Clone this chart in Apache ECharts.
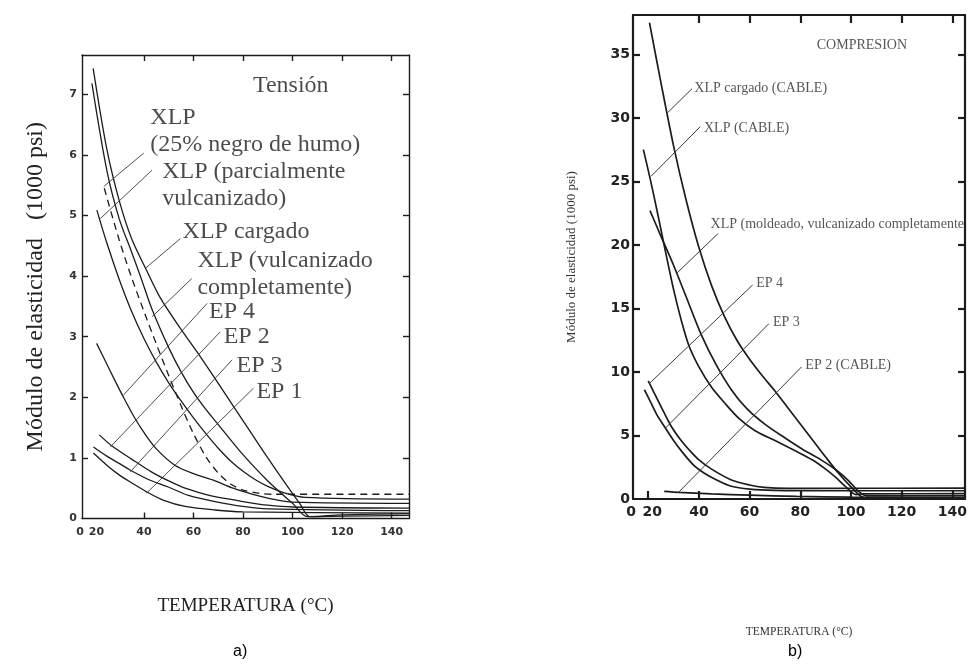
<!DOCTYPE html>
<html><head><meta charset="utf-8">
<script src="https://cdn.jsdelivr.net/npm/echarts@6.0.0/dist/echarts.min.js"></script>
<style>html,body{margin:0;padding:0;background:#fff}#c{width:970px;height:667px}</style>
</head><body><div id="c"></div>
<script>
// ---------- Panel a) Tensión : temperature (°C) vs modulus (1000 psi) ----------
const tensionXTicks = [40, 60, 80, 100, 120, 140];
const tensionXLabels = [15, 20, 40, 60, 80, 100, 120, 140];
const tensionYTicks = [1, 2, 3, 4, 5, 6, 7];
const tensionYLabels = [0, 1, 2, 3, 4, 5, 6, 7];

const tXlpCargado = [[19.5,7.43],[25,6.1],[30,5.25],[35,4.62],[41,4.1],[46.5,3.65],[55,3.12],[62.6,2.68],[70,2.23],[76,1.86],[83,1.43],[90,1.0],[97.6,0.55],[103,0.24],[107,0.03],[120,0.06],[147,0.08]];
const tXlpCompleto = [[19,7.18],[25,5.75],[30,4.95],[35,4.4],[39,3.95],[43.3,3.45],[50,2.82],[55,2.42],[60,2.08],[65,1.8],[70,1.55],[79,1.1],[90,0.62],[100,0.25],[106,0.03],[120,0.04],[147,0.05]];
const tXlpNegro = [[24,5.45],[30,4.6],[35,3.98],[40,3.42],[45,2.88],[50,2.36],[55,1.86],[60,1.4],[65,1.02],[70,0.75],[75,0.57],[80,0.47],[86,0.42],[92,0.4],[147,0.4]];
const tXlpParcial = [[21,5.09],[25,4.55],[30,3.95],[35,3.42],[40,2.97],[45,2.58],[50,2.24],[55,1.94],[60,1.66],[65,1.4],[70,1.16],[75,0.95],[80,0.78],[85,0.64],[90,0.53],[97,0.42],[105,0.35],[147,0.32]];
const tEp4 = [[20.9,2.89],[25,2.55],[28,2.3],[32,1.98],[36,1.68],[40,1.42],[45,1.15],[52.5,0.88],[60,0.74],[68.7,0.62],[76,0.5],[84,0.4],[92,0.32],[100,0.27],[147,0.25]];
const tEp2 = [[22,1.38],[27,1.2],[35,0.98],[43,0.77],[50,0.62],[56.6,0.5],[63,0.42],[68.7,0.36],[80,0.28],[90,0.22],[100,0.19],[147,0.17]];
const tEp3 = [[19.6,1.18],[25,1.03],[30,0.91],[34.4,0.8],[42,0.64],[49.8,0.52],[58,0.38],[68.7,0.28],[80,0.2],[90,0.16],[147,0.13]];
const tEp1 = [[19.6,1.08],[25,0.88],[30,0.72],[35,0.59],[41.1,0.44],[48,0.3],[56.6,0.2],[68.7,0.14],[80,0.11],[147,0.09]];
const tensionSeries = [tXlpCargado, tXlpCompleto, tXlpNegro, tXlpParcial, tEp4, tEp2, tEp3, tEp1];
const tensionDashed = [false, false, true, false, false, false, false, false];

const tensionTexts = ['Tensión', 'XLP\n(25% negro de humo)', 'XLP (parcialmente\nvulcanizado)', 'XLP cargado', 'XLP (vulcanizado\ncompletamente)', 'EP 4', 'EP 2', 'EP 3', 'EP 1'];
const tensionTextAt = [[84,7.14],[42.6,6.40],[47.4,5.50],[55.6,4.73],[61.6,4.03],[66.3,3.41],[72.2,3.0],[77.4,2.53],[85.4,2.09]];
const tensionLeaders = [
  [[39.9,6.03],[23.8,5.48]],
  [[43.3,5.75],[22.4,4.95]],
  [[54.7,4.62],[40.6,4.13]],
  [[59.3,3.96],[43.3,3.33]],
  [[65.5,3.55],[31.8,2.04]],
  [[70.8,3.08],[26.4,1.18]],
  [[75.6,2.62],[34.5,0.77]],
  [[84.2,2.15],[41.1,0.42]]
];

// ---------- Panel b) Compresión ----------
const compXTicks = [20, 40, 60, 80, 100, 120, 140];
const compXTopTicks = [40, 60, 80, 100, 120, 140];
const compXLabels = [14, 20, 40, 60, 80, 100, 120, 140];
const compYTicks = [5, 10, 15, 20, 25, 30, 35];
const compYLabels = [0, 5, 10, 15, 20, 25, 30, 35];

const cXlpCargado = [[20.5,37.5],[25,32.8],[30,27.8],[35,23.5],[40,19.8],[45,16.8],[50,14.4],[55,12.5],[60,11.0],[65,9.7],[70,8.5],[75,7.2],[80,5.9],[85,4.6],[90,3.3],[95,2.05],[100,0.95],[104,0.2],[107,0.05],[145,0.05]];
const cXlpCable = [[18.1,27.5],[21,25.0],[24,22.2],[27,19.3],[30,16.5],[33,14.1],[36,12.1],[40,10.4],[45,8.8],[50,7.6],[56,6.3],[62,5.4],[70,4.6],[78,3.8],[85,3.05],[90,2.35],[94,1.7],[98,0.95],[102,0.35],[105,0.4],[145,0.42]];
const cXlpMoldeado = [[20.7,22.7],[25,20.7],[30,18.4],[35,15.9],[41,12.9],[47,10.5],[53,8.55],[59,7.1],[66,5.9],[74,4.8],[81,3.9],[88,3.1],[94,2.3],[99,1.45],[103,0.6],[106,0.25],[145,0.25]];
const cEp4 = [[20,9.3],[22,8.5],[25,7.3],[29,5.75],[33,4.6],[36,3.9],[39.9,3.1],[45,2.35],[52.8,1.5],[60,1.1],[65.7,0.92],[75,0.84],[90,0.84],[145,0.86]];
const cEp3 = [[18.5,8.6],[21,7.6],[23.5,6.6],[26.9,5.55],[30,4.6],[34,3.55],[38,2.65],[42,2.05],[47,1.5],[52.8,1.0],[60,0.78],[70,0.68],[90,0.65],[145,0.65]];
const cEp2 = [[26.3,0.6],[32.1,0.52],[45,0.4],[60,0.3],[78.6,0.2],[100,0.14],[145,0.1]];
const compSeries = [cXlpCargado, cXlpCable, cXlpMoldeado, cEp4, cEp3, cEp2];

const compTexts = ['COMPRESION', 'XLP cargado (CABLE)', 'XLP (CABLE)', 'XLP (moldeado, vulcanizado completamente', 'EP 4', 'EP 3', 'EP 2 (CABLE)'];
const compTextAt = [[86.5,35.7],[38.2,32.3],[42.0,29.2],[44.6,21.65],[62.6,17.0],[69.2,13.9],[82.0,10.5]];
const compLeaders = [
  [[37.3,32.3],[27.6,30.4]],
  [[40.5,29.3],[21.1,25.4]],
  [[47.6,20.9],[31.4,17.8]],
  [[61.2,16.85],[20.5,9.1]],
  [[67.6,13.8],[26.9,5.6]],
  [[80.5,10.4],[32.1,0.55]]
];

// ---------- chart ----------
const INK = '#1c1c1c';
const serif = 'Liberation Serif';
const chart = echarts.init(document.getElementById('c'), null, {renderer: 'canvas'});

function frameAxis(gridIndex, pos, min, max, tickVals, tickLen, lineW) {
  return {
    type: 'value', gridIndex, position: pos, min, max,
    axisLine: {show: true, onZero: false, lineStyle: {color: INK, width: lineW}},
    axisTick: {show: true, inside: true, length: tickLen, customValues: tickVals, lineStyle: {color: INK, width: lineW}},
    axisLabel: {show: false}, splitLine: {show: false}
  };
}

const xAxes = [
  Object.assign(frameAxis(0, 'bottom', 15, 147, tensionXTicks, 6, 1.4), {
    axisLabel: {show: true, customValues: tensionXLabels, margin: 8, color: '#333', fontFamily: 'DejaVu Sans', fontWeight: 'bold', fontSize: 11,
      formatter: v => v === 15 ? '{z|0}' : (v === 20 ? '{t|20}' : String(v)),
      rich: {z: {padding: [0, 4, 0, 0], fontFamily: 'DejaVu Sans', fontWeight: 'bold', fontSize: 11, color: '#333'},
             t: {padding: [0, 0, 0, 4], fontFamily: 'DejaVu Sans', fontWeight: 'bold', fontSize: 11, color: '#333'}}},
    name: 'TEMPERATURA (°C)', nameLocation: 'middle', nameGap: 78,
    nameTextStyle: {fontFamily: serif, fontSize: 19, color: '#222'}
  }),
  frameAxis(0, 'top', 15, 147, tensionXTicks, 6, 1.4),
  Object.assign(frameAxis(1, 'bottom', 14, 145, compXTicks, 8, 2.2), {
    axisLabel: {show: true, customValues: compXLabels, margin: 6, color: '#222', fontFamily: 'DejaVu Sans', fontWeight: 'bold', fontSize: 14,
      formatter: v => v === 14 ? '{z|0}' : (v === 20 ? '{t|20}' : String(v)),
      rich: {z: {padding: [0, 4, 0, 0], fontFamily: 'DejaVu Sans', fontWeight: 'bold', fontSize: 14, color: '#222'},
             t: {padding: [0, 0, 0, 8], fontFamily: 'DejaVu Sans', fontWeight: 'bold', fontSize: 14, color: '#222'}}},
    name: 'TEMPERATURA (°C)', nameLocation: 'middle', nameGap: 127,
    nameTextStyle: {fontFamily: serif, fontSize: 11.5, color: '#333'}
  }),
  frameAxis(1, 'top', 14, 145, compXTopTicks, 8, 2.2)
];
const yAxes = [
  Object.assign(frameAxis(0, 'left', 0, 7.65, tensionYTicks, 6, 1.4), {
    axisLabel: {show: true, customValues: tensionYLabels, margin: 5, color: '#333', fontFamily: 'DejaVu Sans', fontWeight: 'bold', fontSize: 11},
    name: 'Módulo de elasticidad   (1000 psi)', nameLocation: 'middle', nameGap: 34, nameRotate: 90,
    nameTextStyle: {fontFamily: serif, fontSize: 24, color: '#222'}
  }),
  frameAxis(0, 'right', 0, 7.65, tensionYTicks, 6, 1.4),
  Object.assign(frameAxis(1, 'left', 0, 38.1, compYTicks, 7, 2.2), {
    axisLabel: {show: true, customValues: compYLabels, margin: 3, color: '#222', fontFamily: 'DejaVu Sans', fontWeight: 'bold', fontSize: 14},
    name: 'Módulo de elasticidad (1000 psi)', nameLocation: 'middle', nameGap: 55, nameRotate: 90,
    nameTextStyle: {fontFamily: serif, fontSize: 13, color: '#333'}
  }),
  frameAxis(1, 'right', 0, 38.1, compYTicks, 7, 2.2)
];

const series = [];
tensionSeries.forEach((d, i) => series.push({
  type: 'line', data: d, xAxisIndex: 0, yAxisIndex: 0, symbol: 'none', smooth: 0.3, silent: true,
  lineStyle: {color: INK, width: 1.3, type: tensionDashed[i] ? [7, 5] : 'solid'}
}));
compSeries.forEach(d => series.push({
  type: 'line', data: d, xAxisIndex: 2, yAxisIndex: 2, symbol: 'none', smooth: 0.3, silent: true,
  lineStyle: {color: INK, width: 1.7}
}));
tensionLeaders.forEach(d => series.push({
  type: 'line', data: d, xAxisIndex: 0, yAxisIndex: 0, symbol: 'none', silent: true,
  lineStyle: {color: '#3a3a3a', width: 0.9}
}));
compLeaders.forEach(d => series.push({
  type: 'line', data: d, xAxisIndex: 2, yAxisIndex: 2, symbol: 'none', silent: true,
  lineStyle: {color: '#3a3a3a', width: 1}
}));
series.push({
  type: 'scatter', xAxisIndex: 0, yAxisIndex: 0, symbolSize: 0, silent: true,
  data: tensionTexts.map((t, i) => ({value: tensionTextAt[i], label: {formatter: t}})),
  label: {show: true, position: 'right', distance: 0, fontFamily: serif, fontSize: 24, lineHeight: 27, color: '#1e1e1e'}
});
series.push({
  type: 'scatter', xAxisIndex: 2, yAxisIndex: 2, symbolSize: 0, silent: true,
  data: compTexts.map((t, i) => ({value: compTextAt[i], label: {formatter: t}})),
  label: {show: true, position: 'right', distance: 0, fontFamily: serif, fontSize: 14, color: '#2a2a2a'}
});

chart.setOption({
  animation: false,
  backgroundColor: '#ffffff',
  grid: [
    {left: 82, top: 55, width: 327, height: 463.5},
    {left: 633, top: 15, width: 338, height: 484}
  ],
  xAxis: xAxes,
  yAxis: yAxes,
  series,
  graphic: [
    {type: 'text', left: 233, top: 644, style: {text: 'a)', font: '16px "Liberation Sans"', fill: '#000'}},
    {type: 'text', left: 788, top: 644, style: {text: 'b)', font: '16px "Liberation Sans"', fill: '#000'}}
  ]
});
</script>
</body></html>
